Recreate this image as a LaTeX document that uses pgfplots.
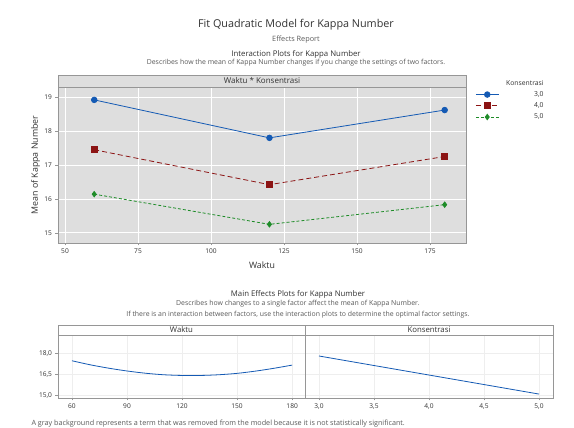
\documentclass[border=0pt]{standalone}
\usepackage{fontspec}
\setmainfont{Open Sans}
\usepackage{pgfplots}
\pgfplotsset{compat=1.18}
\definecolor{panel}{RGB}{222,222,222}
\definecolor{frame}{RGB}{150,150,150}
\definecolor{sblue}{RGB}{20,90,180}
\definecolor{sred}{RGB}{140,20,20}
\definecolor{sgreen}{RGB}{30,140,40}
\definecolor{txt}{RGB}{50,50,50}
\definecolor{gtxt}{RGB}{90,90,90}
\definecolor{lgrid}{RGB}{238,238,238}
\newcommand{\fs}[1]{\fontsize{#1}{#1}\selectfont}
\begin{document}
\begin{tikzpicture}[x=1pt,y=1pt]
\useasboundingbox (0,0) rectangle (574,428);
\fill[white] (0,0) rectangle (574,428);
% titles
\node[text=txt] at (296,403) {\fs{10.8}Fit Quadratic Model for Kappa Number};
\node[text=gtxt] at (296,388) {\fs{7.3}Effects Report};
\node[text=txt] at (296,374) {\fs{7.8}Interaction Plots for Kappa Number};
\node[text=gtxt] at (296,365) {\fs{6.9}Describes how the mean of Kappa Number changes if you change the settings of two factors.};
% top strip
\draw[frame, fill=panel, line width=0.8pt] (58,341) rectangle (466,353);
\node[text=txt] at (262,347) {\fs{8}Waktu * Konsentrasi};
\begin{axis}[at={(58pt,185pt)}, anchor=south west, scale only axis,
  width=408pt, height=156pt,
  xmin=47.6, xmax=187.3, ymin=14.7, ymax=19.3,
  xtick={50,75,100,125,150,175}, ytick={15,16,17,18,19},
  axis background/.style={fill=panel},
  grid=major, major grid style={white, line width=0.8pt},
  axis line style={frame, line width=0.8pt},
  tick style={frame, line width=0.5pt}, tick align=outside,
  major tick length=2.5pt,
  xtick pos=bottom, ytick pos=left,
  ticklabel style={font=\fs{6.6}, text=txt},
  /pgf/number format/assume math mode=true,
  xlabel={Waktu}, ylabel={Mean of Kappa Number},
  xlabel style={font=\fs{8.8}, text=txt, at={(0.5,-0.165)}, anchor=base},
  ylabel style={font=\fs{8.8}, text=txt, at={(-0.055,0.5)}, anchor=center},
  legend style={at={(1.02,1.065)}, anchor=north west, draw=none, fill=none,
    font=\fs{6.8}, text=txt, row sep=0.8pt, inner sep=1pt, column sep=5pt},
  legend cell align=right,
  legend image code/.code={\draw[mark repeat=2,mark phase=2,#1] plot coordinates {(0pt,0pt) (11.5pt,0pt) (23pt,0pt)};},
]
\addlegendimage{empty legend}
\addlegendentry{Konsentrasi}
\addplot[sblue, line width=0.8pt, mark=*, mark size=2.8pt] coordinates {(60,18.92) (120,17.80) (180,18.62)};
\addlegendentry{3,0}
\addplot[sred, line width=0.8pt, dash pattern=on 5pt off 3pt, mark=square*, mark size=2.9pt, mark options={solid}] coordinates {(60,17.45) (120,16.42) (180,17.25)};
\addlegendentry{4,0}
\addplot[sgreen, line width=0.8pt, dash pattern=on 3pt off 2pt, mark=diamond*, mark size=2.7pt, mark options={solid}] coordinates {(60,16.14) (120,15.25) (180,15.83)};
\addlegendentry{5,0}
\end{axis}
% main effects titles
\node[text=txt] at (298,134) {\fs{7.8}Main Effects Plots for Kappa Number};
\node[text=gtxt] at (298,124) {\fs{6.9}Describes how changes to a single factor affect the mean of Kappa Number.};
\node[text=gtxt] at (298,113) {\fs{6.9}If there is an interaction between factors, use the interaction plots to determine the optimal factor settings.};
% bottom strips
\draw[frame, fill=white, line width=0.8pt] (58,93) rectangle (305,103);
\draw[frame, fill=white, line width=0.8pt] (305,93) rectangle (553,103);
\node[text=txt] at (181.5,98) {\fs{7.8}Waktu};
\node[text=txt] at (429,98) {\fs{7.8}Konsentrasi};
\begin{axis}[at={(58pt,30pt)}, anchor=south west, scale only axis,
  width=247pt, height=63pt,
  xmin=52.4, xmax=187, ymin=14.79, ymax=19.29,
  xtick={60,90,120,150,180}, ytick={15,16.5,18},
  grid=major, major grid style={lgrid, line width=0.6pt},
  axis line style={frame, line width=0.8pt},
  tick style={frame, line width=0.5pt}, tick align=outside,
  major tick length=2.5pt,
  xtick pos=bottom, ytick pos=left,
  ticklabel style={font=\fs{6.6}, text=txt},
  yticklabel style={/pgf/number format/.cd, fixed, fixed zerofill, precision=1, use comma},
  /pgf/number format/assume math mode=true,
]
\addplot[sblue, line width=0.8pt, smooth] coordinates {(60,17.45) (70,17.16) (80,16.92) (90,16.72) (100,16.56) (110,16.45) (120,16.40) (130,16.40) (140,16.45) (150,16.55) (160,16.71) (170,16.91) (180,17.14)};
\end{axis}
\begin{axis}[at={(305pt,30pt)}, anchor=south west, scale only axis,
  width=248pt, height=63pt,
  xmin=2.873, xmax=5.127, ymin=14.79, ymax=19.29,
  xtick={3,3.5,4,4.5,5}, ytick={15,16.5,18}, yticklabels={},
  grid=major, major grid style={lgrid, line width=0.6pt},
  axis line style={frame, line width=0.8pt},
  tick style={frame, line width=0.5pt}, tick align=outside,
  major tick length=2.5pt,
  xtick pos=bottom, ytick pos=left, ytick style={draw=none},
  ticklabel style={font=\fs{6.6}, text=txt},
  xticklabel style={/pgf/number format/.cd, fixed, fixed zerofill, precision=1, use comma},
  /pgf/number format/assume math mode=true,
]
\addplot[sblue, line width=0.8pt] coordinates {(3.0,17.79) (4.0,16.43) (5.0,15.07)};
\end{axis}
\node[text=gtxt, anchor=west] at (28,4.5) {\fs{7.2}A gray background represents a term that was removed from the model because it is not statistically significant.};
\end{tikzpicture}
\end{document}
